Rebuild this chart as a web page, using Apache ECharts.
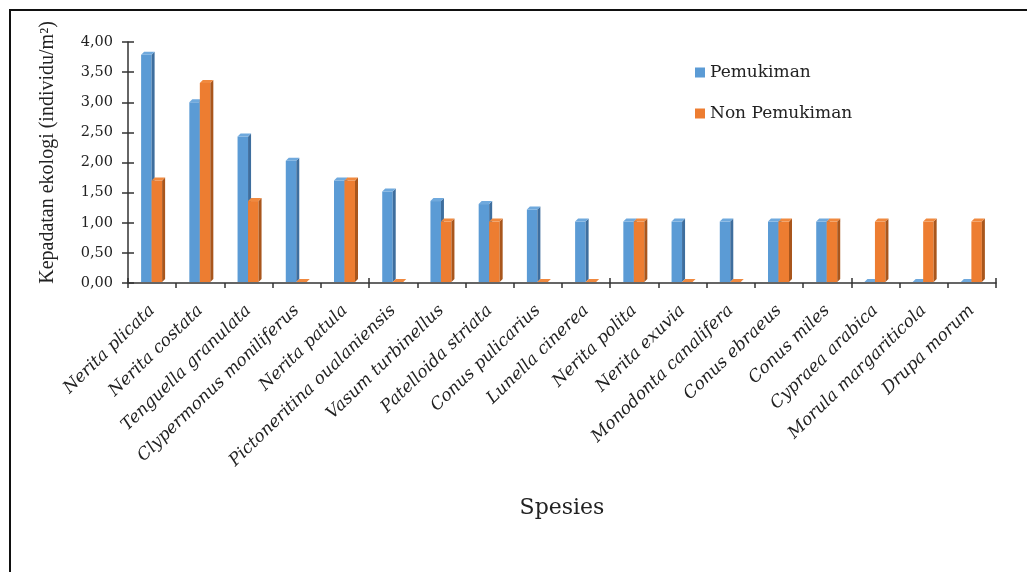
<!DOCTYPE html>
<html>
<head>
<meta charset="utf-8">
<script src="https://cdn.jsdelivr.net/npm/echarts@6/dist/echarts.min.js"></script>
<style>
html,body{margin:0;padding:0;background:#fff;}
#chart{width:1027px;height:572px;}
</style>
</head>
<body>
<div id="chart"></div>
<script>
var categories = ['Nerita plicata','Nerita costata','Tenguella granulata','Clypermonus moniliferus','Nerita patula','Pictoneritina oualaniensis','Vasum turbinellus','Patelloida striata','Conus pulicarius','Lunella cinerea','Nerita polita','Nerita exuvia','Monodonta canalifera','Conus ebraeus','Conus miles','Cypraea arabica','Morula margariticola','Drupa morum'];
var pemukiman = [3.79,3.00,2.43,2.03,1.70,1.52,1.36,1.31,1.22,1.02,1.02,1.02,1.02,1.02,1.02,0,0,0];
var nonPemukiman = [1.70,3.32,1.36,0,1.70,0,1.02,1.02,0,0,1.02,0,0,1.02,1.02,1.02,1.02,1.02];
var yTicks = [0,0.5,1,1.5,2,2.5,3,3.5,4];
var seriesNames = ['Pemukiman','Non Pemukiman'];

var FONT = 'DejaVu Serif';
var chart = echarts.init(document.getElementById('chart'), null, {renderer:'canvas'});

function make3D(idx, front, side, topc){
  return function(params, api){
    var cat = api.value(0), v = api.value(1);
    var b = api.coord([cat, 0]);
    var t = api.coord([cat, v]);
    var bw = 10.5, d = 3;
    var x0 = b[0] - 11 + idx*bw, x1 = x0 + bw;
    var yb = b[1] - 1, yt = Math.min(t[1], yb);
    var children = [];
    if (yb - yt > 0.1) {
      children.push({type:'rect', shape:{x:x0,y:yt,width:bw,height:yb-yt}, style:{fill:front}});
      children.push({type:'polygon', shape:{points:[[x1,yt],[x1+d,yt-d],[x1+d,yb-d],[x1,yb]]}, style:{fill:side}});
    }
    children.push({type:'polygon', shape:{points:[[x0,yt],[x1,yt],[x1+d,yt-d],[x0+d,yt-d]]}, style:{fill:topc}});
    return {type:'group', children:children};
  };
}

function dataOf(arr){ return arr.map(function(v,i){ return [i,v]; }); }

var option = {
  backgroundColor:'#fff',
  animation:false,
  textStyle:{fontFamily:FONT},
  grid:{left:128,right:31,top:42,bottom:289,containLabel:false},
  legend:{
    orient:'vertical', left:690, top:59, itemGap:24,
    itemWidth:10, itemHeight:10, icon:'rect',
    textStyle:{fontFamily:FONT,fontSize:17,color:'#222'},
    data:seriesNames
  },
  xAxis:[{
    type:'category', data:categories, position:'bottom',
    axisLine:{lineStyle:{color:'#333',width:1.5}},
    axisTick:{show:true,alignWithLabel:false,length:5,lineStyle:{color:'#333',width:1.5}},
    axisLabel:{rotate:44,interval:0,margin:25,fontFamily:FONT,fontStyle:'italic',fontSize:17,color:'#222'},
    name:'Spesies', nameLocation:'middle', nameGap:214,
    nameTextStyle:{fontFamily:FONT,fontSize:22,color:'#222'}
  },{
    type:'category', data:categories, position:'bottom',
    axisLine:{show:false},
    axisTick:{show:true,inside:true,length:5,lineStyle:{color:'#333',width:1.5}},
    axisLabel:{show:false}
  }],
  yAxis:[{
    type:'value', min:0, max:4, interval:0.5,
    axisLine:{show:true,lineStyle:{color:'#333',width:1.5}},
    axisTick:{show:true,length:6,lineStyle:{color:'#333',width:1.5}},
    splitLine:{show:false},
    axisLabel:{margin:15,fontFamily:FONT,fontSize:14.5,color:'#222',
      formatter:function(v){ return v.toFixed(2).replace('.',','); }},
    name:'Kepadatan ekologi (individu/m²)', nameLocation:'middle', nameGap:70, nameRotate:90,
    nameTextStyle:{fontFamily:'Liberation Serif',fontSize:20,color:'#222',padding:[0,0,0,20]}
  },{
    type:'value', min:0, max:4, interval:0.5, position:'left',
    axisLine:{show:false},
    axisTick:{show:true,inside:true,length:6,lineStyle:{color:'#333',width:1.5}},
    splitLine:{show:false},
    axisLabel:{show:false}
  }],
  series:[{
    name:seriesNames[0], type:'custom', renderItem:make3D(0,'#5B9BD5','#3E6E9E','#6FA9DD'),
    itemStyle:{color:'#5B9BD5'}, encode:{x:0,y:1}, data:dataOf(pemukiman)
  },{
    name:seriesNames[1], type:'custom', renderItem:make3D(1,'#ED7D31','#A9561C','#F0893F'),
    itemStyle:{color:'#ED7D31'}, encode:{x:0,y:1}, data:dataOf(nonPemukiman)
  }],
  graphic:[{
    type:'rect', shape:{x:10,y:10,width:1200,height:800},
    style:{fill:null,stroke:'#111',lineWidth:2}, silent:true, z:-1
  }]
};
chart.setOption(option);
</script>
</body>
</html>
